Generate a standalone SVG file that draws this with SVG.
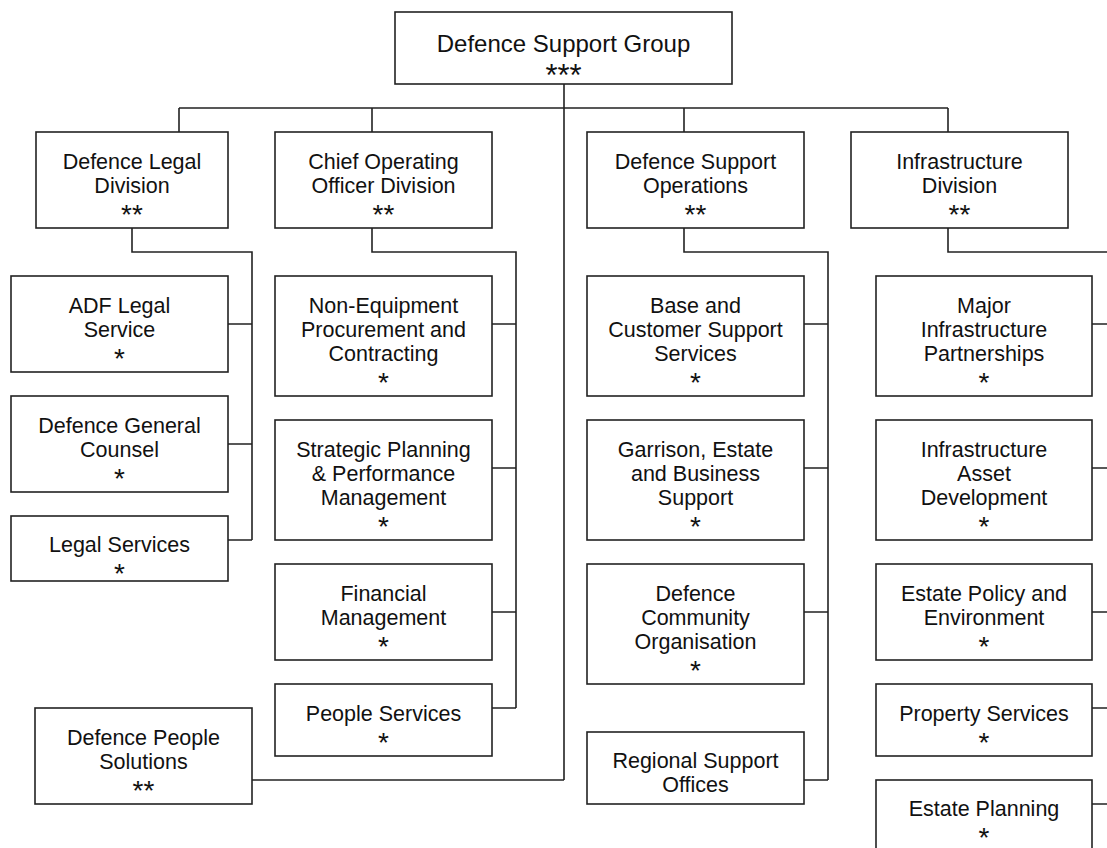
<svg xmlns="http://www.w3.org/2000/svg" width="1107" height="848" viewBox="0 0 1107 848">
<style>
rect{fill:#fff;stroke:#222;stroke-width:1.6}
.c path{fill:none;stroke:#222;stroke-width:1.6}
text{font-family:"Liberation Sans",Arial,Helvetica,sans-serif;font-size:21.5px;fill:#111;text-anchor:middle}
.s{font-size:28px}
.t{font-size:24px}
.ts{font-size:31px}
</style>
<rect x="0" y="0" width="1107" height="848" style="stroke:none;fill:#fff"/>
<g class="c" id="connectors">
<path d="M564 84V780M179 108H948M179 108V132M372 108V132M684 108V132M948 108V132"/>
<path d="M132 228V252H252V540M228 324H252M228 444H252M228 540H252"/>
<path d="M372 228V252H516V708M492 324H516M492 468H516M492 612H516M492 708H516"/>
<path d="M684 228V252H828V780M804 324H828M804 468H828M804 612H828M804 780H828"/>
<path d="M948 228V252H1116V804M1092 324H1116M1092 468H1116M1092 612H1116M1092 708H1116M1092 804H1116"/>
<path d="M252 780H564"/>
</g>
<g id="n-dsg"><rect x="395" y="12" width="337" height="72"/><text class="t" x="563.5" y="51.7">Defence Support Group</text><text class="ts" x="563.5" y="86">***</text></g>
<g id="n-legal"><rect x="36" y="132" width="192" height="96"/><text x="132" y="168.7">Defence Legal</text><text x="132" y="192.7">Division</text><text class="s" x="132" y="223.7">**</text></g>
<g id="n-coo"><rect x="275" y="132" width="217" height="96"/><text x="383.5" y="168.7">Chief Operating</text><text x="383.5" y="192.7">Officer Division</text><text class="s" x="383.5" y="223.7">**</text></g>
<g id="n-dso"><rect x="587" y="132" width="217" height="96"/><text x="695.5" y="168.7">Defence Support</text><text x="695.5" y="192.7">Operations</text><text class="s" x="695.5" y="223.7">**</text></g>
<g id="n-infra"><rect x="851" y="132" width="217" height="96"/><text x="959.5" y="168.7">Infrastructure</text><text x="959.5" y="192.7">Division</text><text class="s" x="959.5" y="223.7">**</text></g>
<g id="n-adf"><rect x="11" y="276" width="217" height="96"/><text x="119.5" y="312.7">ADF Legal</text><text x="119.5" y="336.7">Service</text><text class="s" x="119.5" y="367.7">*</text></g>
<g id="n-dgc"><rect x="11" y="396" width="217" height="96"/><text x="119.5" y="432.7">Defence General</text><text x="119.5" y="456.7">Counsel</text><text class="s" x="119.5" y="487.7">*</text></g>
<g id="n-ls"><rect x="11" y="516" width="217" height="65"/><text x="119.5" y="551.5">Legal Services</text><text class="s" x="119.5" y="582.5">*</text></g>
<g id="n-nep"><rect x="275" y="276" width="217" height="120"/><text x="383.5" y="312.7">Non-Equipment</text><text x="383.5" y="336.7">Procurement and</text><text x="383.5" y="360.7">Contracting</text><text class="s" x="383.5" y="391.7">*</text></g>
<g id="n-spp"><rect x="275" y="420" width="217" height="120"/><text x="383.5" y="456.7">Strategic Planning</text><text x="383.5" y="480.7">&amp; Performance</text><text x="383.5" y="504.7">Management</text><text class="s" x="383.5" y="535.7">*</text></g>
<g id="n-fm"><rect x="275" y="564" width="217" height="96"/><text x="383.5" y="600.7">Financial</text><text x="383.5" y="624.7">Management</text><text class="s" x="383.5" y="655.7">*</text></g>
<g id="n-ps"><rect x="275" y="684" width="217" height="72"/><text x="383.5" y="720.7">People Services</text><text class="s" x="383.5" y="751.7">*</text></g>
<g id="n-dps"><rect x="35" y="708" width="217" height="96"/><text x="143.5" y="744.7">Defence People</text><text x="143.5" y="768.7">Solutions</text><text class="s" x="143.5" y="799.7">**</text></g>
<g id="n-bcs"><rect x="587" y="276" width="217" height="120"/><text x="695.5" y="312.7">Base and</text><text x="695.5" y="336.7">Customer Support</text><text x="695.5" y="360.7">Services</text><text class="s" x="695.5" y="391.7">*</text></g>
<g id="n-geb"><rect x="587" y="420" width="217" height="120"/><text x="695.5" y="456.7">Garrison, Estate</text><text x="695.5" y="480.7">and Business</text><text x="695.5" y="504.7">Support</text><text class="s" x="695.5" y="535.7">*</text></g>
<g id="n-dco"><rect x="587" y="564" width="217" height="120"/><text x="695.5" y="600.7">Defence</text><text x="695.5" y="624.7">Community</text><text x="695.5" y="648.7">Organisation</text><text class="s" x="695.5" y="679.7">*</text></g>
<g id="n-rso"><rect x="587" y="732" width="217" height="72"/><text x="695.5" y="768.3">Regional Support</text><text x="695.5" y="792.3">Offices</text></g>
<g id="n-mip"><rect x="876" y="276" width="216" height="120"/><text x="984" y="312.7">Major</text><text x="984" y="336.7">Infrastructure</text><text x="984" y="360.7">Partnerships</text><text class="s" x="984" y="391.7">*</text></g>
<g id="n-iad"><rect x="876" y="420" width="216" height="120"/><text x="984" y="456.7">Infrastructure</text><text x="984" y="480.7">Asset</text><text x="984" y="504.7">Development</text><text class="s" x="984" y="535.7">*</text></g>
<g id="n-epe"><rect x="876" y="564" width="216" height="96"/><text x="984" y="600.7">Estate Policy and</text><text x="984" y="624.7">Environment</text><text class="s" x="984" y="655.7">*</text></g>
<g id="n-prs"><rect x="876" y="684" width="216" height="72"/><text x="984" y="720.7">Property Services</text><text class="s" x="984" y="751.7">*</text></g>
<g id="n-epl"><rect x="876" y="780" width="216" height="72"/><text x="984" y="816.3">Estate Planning</text><text class="s" x="984" y="847">*</text></g>
</svg>
